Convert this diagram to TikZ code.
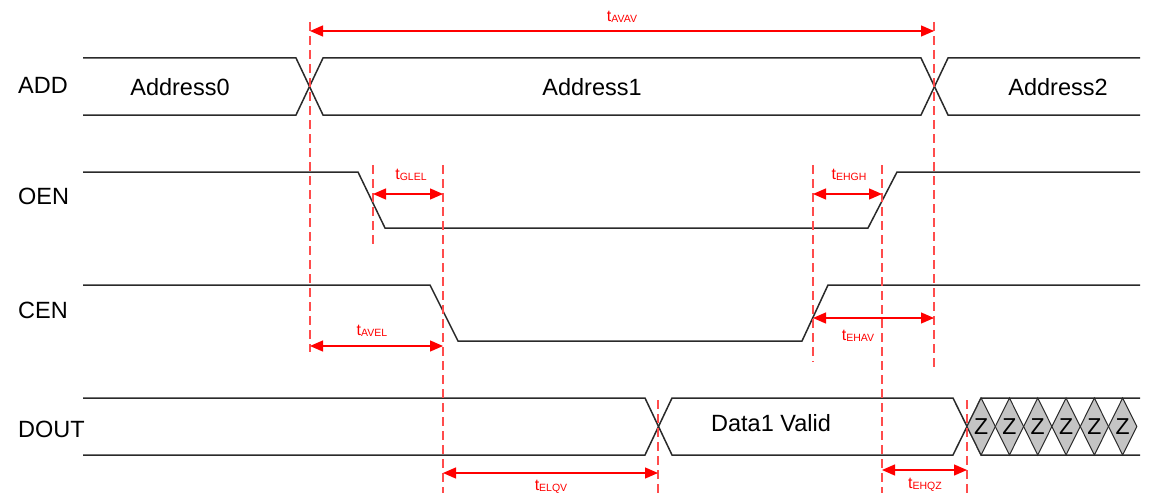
\documentclass[tikz,border=0pt]{standalone}
\usepackage{fontspec}
\setmainfont{Liberation Sans}
\usetikzlibrary{arrows.meta}
\definecolor{wave}{HTML}{2A2A2A}
\definecolor{dashred}{rgb}{1,0.3,0.3}
\definecolor{zgray}{HTML}{C4C4C4}
\tikzset{
  wv/.style={draw=wave,line width=1.5pt},
  guide/.style={draw=dashred,line width=1.3pt,dash pattern=on 9pt off 5pt},
  dim/.style={draw=red,line width=1.3pt,{Triangle[length=13pt,width=11pt]}-{Triangle[length=13pt,width=11pt]}},
  sig/.style={font=\fontsize{23.5}{25}\selectfont,anchor=west,inner sep=0pt},
  val/.style={font=\fontsize{23.5}{25}\selectfont,inner sep=0pt},
  tlab/.style={text=red,inner sep=0pt,font=\fontsize{16}{18}\selectfont},
}
\newcommand{\tsub}[2]{t{\fontsize{10.5}{12}\selectfont\raisebox{-1.5pt}{#2}}}
\begin{document}
\begin{tikzpicture}[x=1pt,y=-1pt]
\useasboundingbox (0,0) rectangle (1153,495);
% signal names
\node[sig] (nADD) at (18,85) {ADD};
\node[sig] (nOEN) at (18,196) {OEN};
\node[sig] (nCEN) at (18,310) {CEN};
\node[sig] (nDOUT) at (18,429) {DOUT};
% ADD bus
\draw[wv] (83,58) -- (296,58) -- (323,115) -- (921,115) -- (948,58) -- (1140,58);
\draw[wv] (83,115) -- (296,115) -- (323,58) -- (921,58) -- (948,115) -- (1140,115);
\node[val] (a0) at (180,87) {Address0};
\node[val] (a1) at (592,87) {Address1};
\node[val] (a2) at (1058,87) {Address2};
% OEN
\draw[wv] (83,172) -- (358,172) -- (385,228) -- (868,228) -- (897,172) -- (1140,172);
% CEN
\draw[wv] (83,285) -- (430,285) -- (458,341) -- (802,341) -- (828,285) -- (1140,285);
% DOUT
\draw[wv] (83,398) -- (645,398) -- (672,455) -- (953,455) -- (981,398) -- (1140,398);
\draw[wv] (83,455) -- (645,455) -- (672,398) -- (953,398) -- (981,455) -- (1140,455);
\node[val] (d1) at (771,423) {Data1 Valid};
\foreach \i in {0,...,5}{
  \pgfmathsetmacro{\xl}{967+28.3*\i}
  \draw[wv,line width=1pt,fill=zgray] (\xl,426.5) -- ++(14.15,-28.5) -- ++(14.15,28.5) -- ++(-14.15,28.5) -- cycle;
  \node[val,font=\fontsize{23}{24}\selectfont] (z\i) at (\xl+14.15,427) {Z};
}
% guide lines
\coordinate (g1t) at (310,22);  \coordinate (g1b) at (310,352);
\coordinate (g2t) at (934,22);  \coordinate (g2b) at (934,368);
\coordinate (g3t) at (373,165); \coordinate (g3b) at (373,248);
\coordinate (g4t) at (443,165); \coordinate (g4b) at (443,493);
\coordinate (g5t) at (813,165); \coordinate (g5b) at (813,362);
\coordinate (g6t) at (882,165); \coordinate (g6b) at (882,493);
\coordinate (g7t) at (658,400); \coordinate (g7b) at (658,493);
\coordinate (g8t) at (967,400); \coordinate (g8b) at (967,493);
\foreach \g in {1,...,8}{\draw[guide] (g\g t) -- (g\g b);}
% dimension arrows
\coordinate (avavL) at (310,31); \coordinate (avavR) at (934,31);
\draw[dim] (avavL) -- (avavR);
\node[tlab] (tavav) at (622,17) {\tsub{t}{AVAV}};
\coordinate (glelL) at (373,194); \coordinate (glelR) at (443,194);
\draw[dim] (glelL) -- (glelR);
\node[tlab] (tglel) at (411,175) {\tsub{t}{GLEL}};
\coordinate (ehghL) at (813,194); \coordinate (ehghR) at (882,194);
\draw[dim] (ehghL) -- (ehghR);
\node[tlab] (tehgh) at (849,175) {\tsub{t}{EHGH}};
\coordinate (avelL) at (310,346); \coordinate (avelR) at (443,346);
\draw[dim] (avelL) -- (avelR);
\node[tlab] (tavel) at (372,331) {\tsub{t}{AVEL}};
\coordinate (ehavL) at (813,318); \coordinate (ehavR) at (934,318);
\draw[dim] (ehavL) -- (ehavR);
\node[tlab] (tehav) at (858,336) {\tsub{t}{EHAV}};
\coordinate (elqvL) at (443,473); \coordinate (elqvR) at (658,473);
\draw[dim] (elqvL) -- (elqvR);
\node[tlab] (telqv) at (551,487) {\tsub{t}{ELQV}};
\coordinate (ehqzL) at (882,470); \coordinate (ehqzR) at (967,470);
\draw[dim] (ehqzL) -- (ehqzR);
\node[tlab] (tehqz) at (925,485) {\tsub{t}{EHQZ}};
\end{tikzpicture}
\end{document}
